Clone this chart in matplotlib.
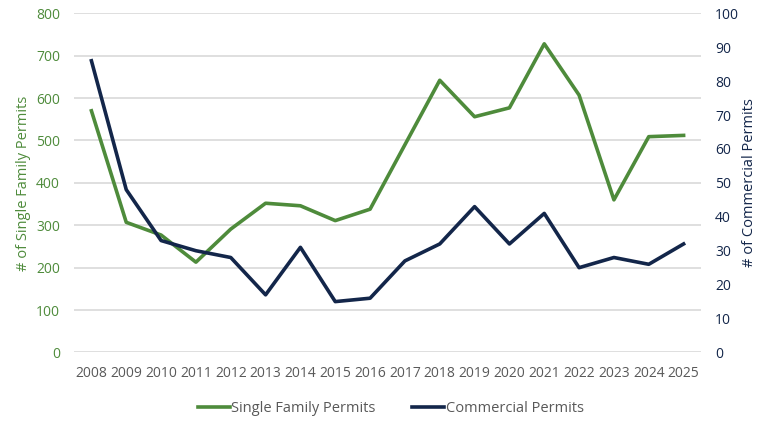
import matplotlib
matplotlib.use("Agg")
import matplotlib.pyplot as plt

years = ["2008", "2009", "2010", "2011", "2012", "2013", "2014", "2015", "2016",
         "2017", "2018", "2019", "2020", "2021", "2022", "2023", "2024", "2025"]
single_family = [570, 307, 277, 213, 291, 352, 346, 311, 338,
                 490, 642, 556, 577, 728, 607, 360, 509, 512]
commercial = [86, 48, 33, 30, 28, 17, 31, 15, 16,
              27, 32, 43, 32, 41, 25, 28, 26, 32]
left_ticks = [0, 100, 200, 300, 400, 500, 600, 700, 800]
right_ticks = [0, 10, 20, 30, 40, 50, 60, 70, 80, 90, 100]

GREEN = "#4e8b3b"
NAVY = "#13264a"
GRAY = "#595959"

plt.rcParams['font.family'] = ['Open Sans', 'DejaVu Sans']

fig = plt.figure(figsize=(7.59, 4.23), dpi=100)
ax = fig.add_axes([0.0975, 0.1667, 0.8261, 0.8019])
ax2 = ax.twinx()

x = list(range(len(years)))
l1, = ax.plot(x, single_family, color=GREEN, lw=2.6, label="Single Family Permits", zorder=3)
l2, = ax2.plot(x, commercial, color=NAVY, lw=2.6, label="Commercial Permits", zorder=3)

ax.set_xlim(-0.5, len(years) - 0.5)
ax.set_ylim(0, 800)
ax2.set_ylim(0, 100)
ax.set_yticks(left_ticks)
ax2.set_yticks(right_ticks)
ax.set_xticks(x)
ax.set_xticklabels(years)

ax.grid(axis='y', color='#d9d9d9', lw=1.2)
ax.set_axisbelow(True)
for a in (ax, ax2):
    for s in a.spines.values():
        s.set_visible(False)
    a.tick_params(length=0)

ax.tick_params(axis='y', colors=GREEN, labelsize=10, pad=10)
ax.tick_params(axis='x', colors=GRAY, labelsize=10, pad=10)
ax2.tick_params(axis='y', colors=NAVY, labelsize=10, pad=10)

ax.set_ylabel("# of Single Family Permits", color=GREEN, fontsize=10.5, labelpad=4)
ax2.set_ylabel("# of Commercial Permits", color=NAVY, fontsize=10.5, labelpad=2)

fig.legend(handles=[l1, l2], loc='center', bbox_to_anchor=(0.515, 0.035), ncol=2,
           frameon=False, fontsize=10.5, labelcolor=GRAY, handlelength=2.2,
           handletextpad=0.1, columnspacing=2.5)

fig.savefig("out.png", dpi=100)
